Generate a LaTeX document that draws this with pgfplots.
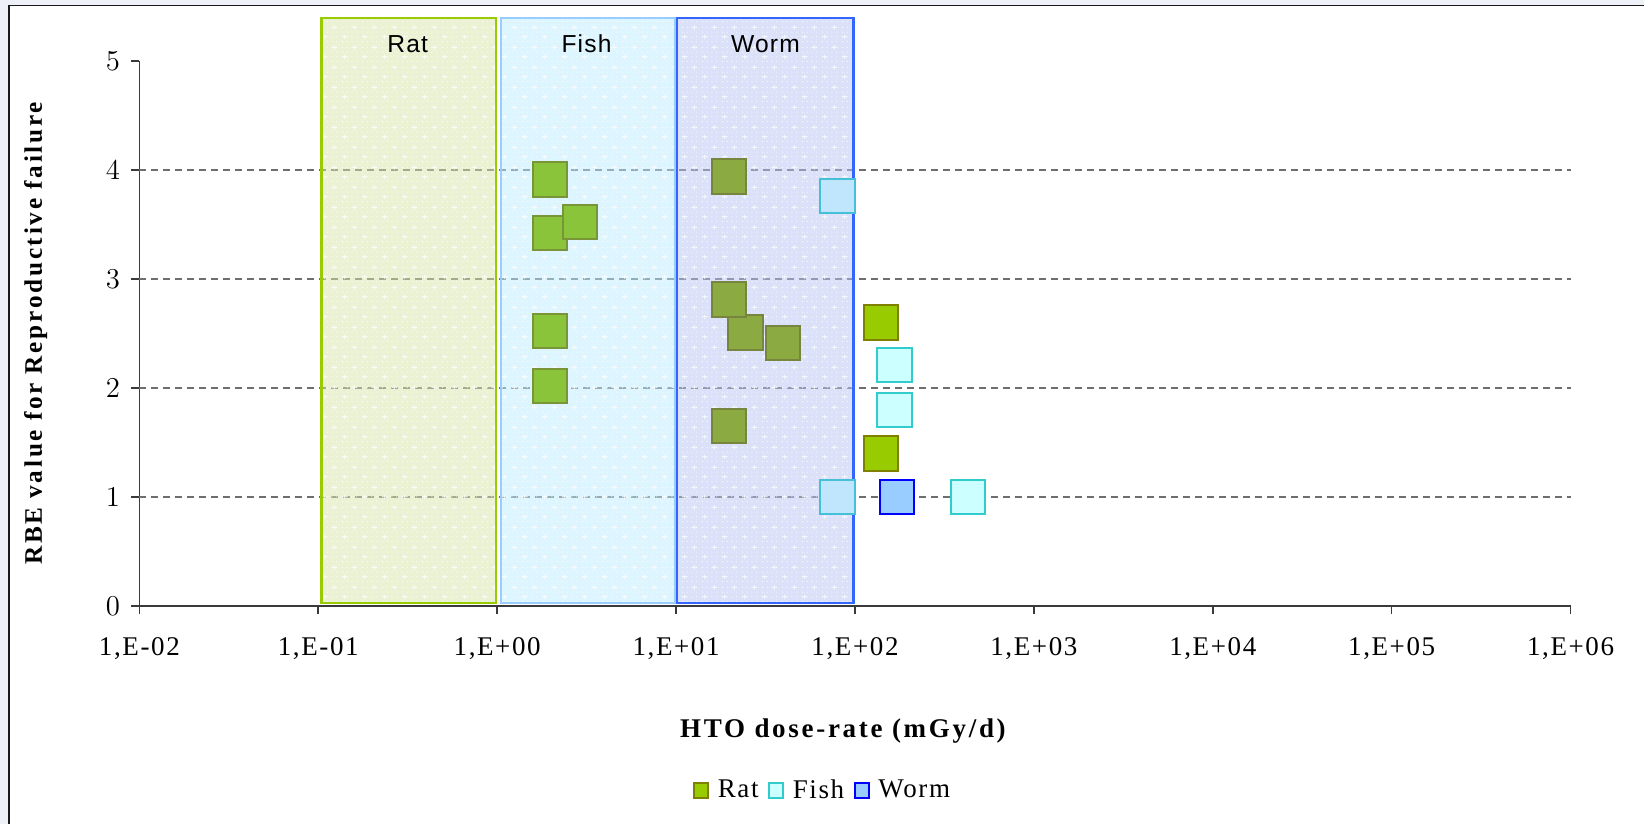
\documentclass[border=0pt]{standalone}
\usepackage{fontspec}
\setmainfont{Liberation Serif}
\newfontfamily\boxsans{Liberation Sans}[LetterSpace=5]
\usepackage{pgfplots}
\pgfplotsset{compat=1.18}
\usetikzlibrary{patterns.meta}

\definecolor{pagebg}{HTML}{EEF2F8}
\definecolor{framecol}{HTML}{1A1A1A}
\definecolor{axisgray}{HTML}{3A3A3A}
\definecolor{gridgray}{HTML}{6E6E6E}
\definecolor{ratfill}{HTML}{99CC00}
\definecolor{ratedge}{HTML}{808000}
\definecolor{fishfill}{HTML}{CCFFFF}
\definecolor{fishedge}{HTML}{33CCCC}
\definecolor{wormfill}{HTML}{99CCFF}
\definecolor{wormedge}{HTML}{0000FF}
% markers seen through the tinted bands
\definecolor{ratinfish}{HTML}{8AC43A}
\definecolor{ratinfishedge}{HTML}{7A9438}
\definecolor{ratinworm}{HTML}{8BAB42}
\definecolor{ratinwormedge}{HTML}{78853F}
\definecolor{fishinworm}{HTML}{C0E6FD}
\definecolor{fishinwormedge}{HTML}{46BFD8}
% bands (drawn semi-transparent)
\definecolor{ratband}{HTML}{D9E7A9}
\definecolor{ratbandedge}{HTML}{99CC00}
\definecolor{fishband}{HTML}{BDEDFF}
\definecolor{fishbandedge}{HTML}{99CCFF}
\definecolor{wormband}{HTML}{B9C5F5}
\definecolor{wormbandedge}{HTML}{3366FF}

% light dotted texture with small white crosses
\tikzdeclarepattern{
  name=sparkle,
  tile size={(10pt,10pt)},
  bottom left={(0pt,0pt)},
  top right={(10pt,10pt)},
  code={
    \foreach \i in {0,1,2,3}{
      \foreach \j in {0,1,2,3}{
        \fill (1.25pt+2.5pt*\i,1.25pt+2.5pt*\j) circle (0.3pt);
      }
    }
    \fill (1.3pt,3.55pt) rectangle (3.7pt,3.95pt);
    \fill (2.3pt,2.55pt) rectangle (2.7pt,4.95pt);
    \fill (6.3pt,8.55pt) rectangle (8.7pt,8.95pt);
    \fill (7.3pt,7.55pt) rectangle (7.7pt,9.95pt);
  }
}

\newcommand{\tickfont}{\fontsize{13.5}{16}\selectfont\addfontfeatures{LetterSpace=6}}
\newcommand{\xlabfont}{\fontsize{13.5}{16}\selectfont\bfseries\addfontfeatures{LetterSpace=10}}
\newcommand{\ylabfont}{\fontsize{12.6}{15}\selectfont\bfseries\addfontfeatures{LetterSpace=11}}
\newcommand{\legfont}{\fontsize{13.5}{16}\selectfont\addfontfeatures{LetterSpace=6}}
\newcommand{\bandfont}{\boxsans\fontsize{12.3}{14}\selectfont}

\begin{document}
\begin{tikzpicture}
\fill[pagebg] (0,0) rectangle (822pt,412pt);
\fill[white] (4.5pt,0) rectangle (822pt,409.2pt);
\draw[framecol, line width=0.7pt] (4.5pt,0) -- (4.5pt,409.2pt) -- (822pt,409.2pt);

\begin{axis}[
  scale only axis,
  width=715.6pt, height=272.6pt,
  at={(69.7pt,109pt)}, anchor=south west,
  xmode=log, log basis x=10,
  xmin=1e-2, xmax=1e6, ymin=0, ymax=5,
  clip=false,
  axis x line=bottom, axis y line=left,
  axis line style={-, draw=axisgray, line width=0.8pt},
  tick align=outside, major tick length=4pt,
  tick style={draw=axisgray, line width=0.8pt},
  xminorticks=false, yminorticks=false,
  xtick={1e-2,1e-1,1,1e1,1e2,1e3,1e4,1e5,1e6},
  xticklabels={{1,E-02},{1,E-01},{1,E+00},{1,E+01},{1,E+02},{1,E+03},{1,E+04},{1,E+05},{1,E+06}},
  ytick={0,1,2,3,4,5},
  extra y ticks={1,2,3,4},
  extra y tick labels={},
  extra y tick style={major tick length=0pt, ymajorgrids=true,
    grid style={gridgray, dash pattern=on 3.5pt off 2.5pt, line width=0.75pt}},
  xticklabel style={font=\tickfont, anchor=north, yshift=-8pt},
  yticklabel style={font=\tickfont, anchor=east, xshift=-2.2pt},
  xlabel={HTO dose-rate (mGy/d)},
  ylabel={RBE value for Reproductive failure},
  xlabel style={font=\xlabfont, at={(axis description cs:0.4916,-0.2421)}, anchor=base},
  ylabel style={font=\ylabfont, at={(axis description cs:-0.0682,0.5)}, rotate=0, anchor=base},
  legend style={at={(axis description cs:0.477,-0.3384)}, anchor=center,
    draw=none, fill=none, inner sep=0pt, font=\legfont,
    nodes={inner sep=0pt},
    /tikz/every odd column/.append style={column sep=4.7pt},
    /tikz/every even column/.append style={column sep=5.2pt}},
  legend columns=-1,
  legend image code/.code={\draw[mark repeat=2, mark phase=2, #1, mark size=3.6pt, line width=1pt]
    plot coordinates {(-0.13cm,0cm) (0cm,0cm) (0.13cm,0cm)};},
]

% tinted bands (translucent, so the grid shows through)
\addplot[forget plot, fill=ratband, fill opacity=0.5, draw=none]
  coordinates {(0.104,0.03) (0.985,0.03) (0.985,5.39) (0.104,5.39) (0.104,0.03)};
\addplot[forget plot, fill=fishband, fill opacity=0.5, draw=none]
  coordinates {(1.05,0.03) (9.9,0.03) (9.9,5.39) (1.05,5.39) (1.05,0.03)};
\addplot[forget plot, fill=wormband, fill opacity=0.5, draw=none]
  coordinates {(10.1,0.03) (98,0.03) (98,5.39) (10.1,5.39) (10.1,0.03)};

% Rat
\addplot[only marks, mark=square*, mark size=8.6pt,
  mark options={fill=ratfill, draw=ratedge, line width=1pt}]
  coordinates {(140,2.60) (140,1.40)};
\addlegendentry{Rat}
% Fish
\addplot[only marks, mark=square*, mark size=8.6pt,
  mark options={fill=fishfill, draw=fishedge, line width=1pt}]
  coordinates {(166,2.21) (166,1.80) (427,1.00)};
\addlegendentry{Fish}
% Worm
\addplot[only marks, mark=square*, mark size=8.6pt,
  mark options={fill=wormfill, draw=wormedge, line width=1pt}]
  coordinates {(172,1.00)};
\addlegendentry{Worm}

% Rat, inside the fish band
\addplot[forget plot, only marks, mark=square*, mark size=8.6pt,
  mark options={fill=ratinfish, draw=ratinfishedge, line width=1pt}]
  coordinates {(1.97,3.91) (1.97,3.42) (2.9,3.52) (1.97,2.52) (1.97,2.02)};
% Rat, inside the worm band
\addplot[forget plot, only marks, mark=square*, mark size=8.6pt,
  mark options={fill=ratinworm, draw=ratinwormedge, line width=1pt}]
  coordinates {(19.8,3.94) (24.4,2.51) (19.8,2.81) (39.7,2.41) (19.8,1.65)};
% Fish, inside the worm band
\addplot[forget plot, only marks, mark=square*, mark size=8.6pt,
  mark options={fill=fishinworm, draw=fishinwormedge, line width=1pt}]
  coordinates {(80,3.76) (80,1.00)};

% band texture and outlines over the markers
\addplot[forget plot, draw=ratbandedge, line width=1.2pt, pattern=sparkle, pattern color=white]
  coordinates {(0.104,0.03) (0.985,0.03) (0.985,5.39) (0.104,5.39) (0.104,0.03) (0.985,0.03)};
\addplot[forget plot, draw=fishbandedge, line width=1.2pt, pattern=sparkle, pattern color=white]
  coordinates {(1.05,0.03) (9.9,0.03) (9.9,5.39) (1.05,5.39) (1.05,0.03) (9.9,0.03)};
\addplot[forget plot, draw=wormbandedge, line width=1.2pt, pattern=sparkle, pattern color=white]
  coordinates {(10.1,0.03) (98,0.03) (98,5.39) (10.1,5.39) (10.1,0.03) (98,0.03)};

\node[font=\bandfont] at (axis cs:0.316,5.156) {Rat};
\node[font=\bandfont] at (axis cs:3.16,5.156) {Fish};
\node[font=\bandfont] at (axis cs:31.6,5.156) {Worm};
\end{axis}
\pgfresetboundingbox
\useasboundingbox (0,0) rectangle (822pt,412pt);
\end{tikzpicture}
\end{document}
